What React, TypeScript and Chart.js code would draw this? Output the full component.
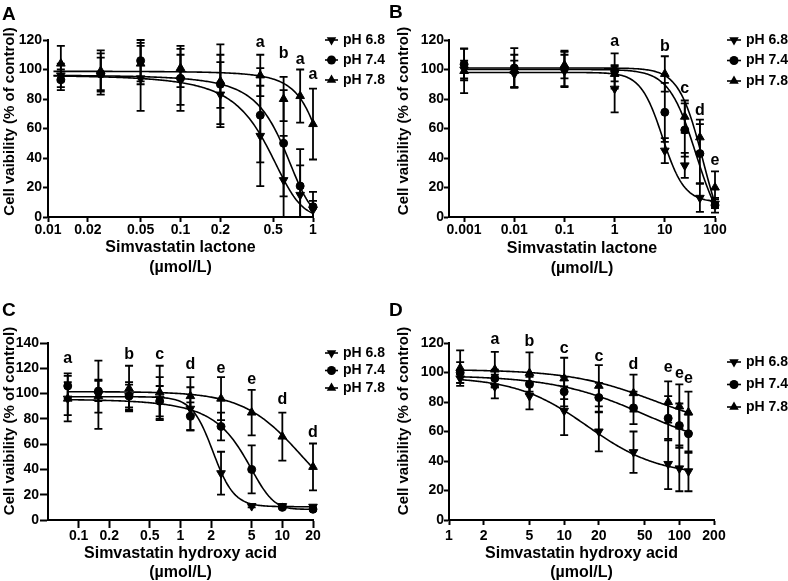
import React, { useEffect, useRef } from 'react';
import { Chart, registerables } from 'chart.js';

Chart.register(...registerables);

const FONT = '"Liberation Sans", Arial, Helvetica, sans-serif';
const SERIES_LABELS = ['pH 6.8', 'pH 7.4', 'pH 7.8'];
const SERIES_MARKERS = ['down', 'circle', 'up'];

// ---------- Panel A : Simvastatin lactone (low range) ----------
const A_X = [0.0125, 0.025, 0.05, 0.1, 0.2, 0.4, 0.6, 0.8, 1];
const A_68 = [96, 97, 94, 93, 83, 55, 25, 15, 5];
const A_68_ERR = [8, 11, 22, 17, 22, 34, 30, 20, 6];
const A_74 = [93, 97, 106, 94, 90, 69, 50, 21, 7];
const A_74_ERR = [7, 14, 14, 22, 27, 32, 36, 25, 10];
const A_78 = [104, 99, 104, 101, 92, 96, 80, 82, 63];
const A_78_ERR = [12, 14, 14, 13, 18, 14, 15, 18, 24];
// fitted curves: [top, bottom, midpoint, slope]
const A_FIT_68 = [102, 0, 0.43, 2.8];
const A_FIT_74 = [99, -2, 0.59, 2.6];
const A_FIT_78 = [99.5, 0, 1.13, 1.9];
const A_FIT_MODELS = ['lin', 'lin', 'lin'];
const A_CURVE_RANGE = [0.011, 1];
const A_XTICKS = [0.01, 0.02, 0.05, 0.1, 0.2, 0.5, 1];
const A_XTICK_LABELS = ['0.01', '0.02', '0.05', '0.1', '0.2', '0.5', '1'];
const A_LETTER_X = [0.4, 0.6, 0.8, 1];
const A_LETTER_Y = [118, 111, 106.5, 96.5];
const A_LETTERS = ['a', 'b', 'a', 'a'];

// ---------- Panel B : Simvastatin lactone (wide range) ----------
const B_X = [0.001, 0.01, 0.1, 1, 10, 25, 50, 100];
const B_68 = [100, 97, 99, 87, 45, 35, 13, 9];
const B_68_ERR = [6, 9, 11, 16, 8.5, 8.5, 9.5, 3];
const B_74 = [103.5, 101, 100.7, 99, 71, 59, 43, 8];
const B_74_ERR = [10.8, 13.5, 12, 12, 20, 18, 20, 5];
const B_78 = [99, 99, 103, 97, 97, 68, 54, 20];
const B_78_ERR = [15, 11, 9, 5, 12, 11, 12, 11];
const B_FIT_68 = [98, 10, 9, 2];
const B_FIT_74 = [100, -15, 42, 1.6];
const B_FIT_78 = [101, -25, 58, 1.8];
const B_FIT_MODELS = ['log', 'log', 'log'];
const B_CURVE_RANGE = [0.001, 100];
const B_XTICKS = [0.001, 0.01, 0.1, 1, 10, 100];
const B_XTICK_LABELS = ['0.001', '0.01', '0.1', '1', '10', '100'];
const B_LETTER_X = [1, 10, 25, 50, 100];
const B_LETTER_Y = [119, 115.5, 87, 72, 38];
const B_LETTERS = ['a', 'b', 'c', 'd', 'e'];

// ---------- Panel C : Simvastatin hydroxy acid (low range) ----------
const C_X = [0.078125, 0.15625, 0.3125, 0.625, 1.25, 2.5, 5, 10, 20];
const C_68 = [96, 99, 98, 96, 88, 37, 11, 11, 10.5];
const C_68_ERR = [18, 27, 9, 17, 17, 17, 1, 1, 1];
const C_74 = [106, 102, 98, 94, 82, 74, 40, 10, 8.5];
const C_74_ERR = [10, 8, 11, 12, 11, 11, 19, 1, 1];
const C_78 = [96, 98, 104, 101, 98, 96, 85, 66, 42];
const C_78_ERR = [13, 13, 18, 21, 15, 17, 18, 19, 18.5];
const C_FIT_68 = [97.5, 10.5, 2.085, 4.2];
const C_FIT_74 = [105, 8.5, 3.77, 0.256];
const C_FIT_78 = [101.5, 0, 15.5, 1.52];
const C_FIT_MODELS = ['log', 'lin', 'log'];
const C_CURVE_RANGE = [0.078125, 20];
const C_XTICKS = [0.1, 0.2, 0.5, 1, 2, 5, 10, 20];
const C_XTICK_LABELS = ['0.1', '0.2', '0.5', '1', '2', '5', '10', '20'];
const C_LETTER_X = [0.078125, 0.3125, 0.625, 1.25, 2.5, 5, 10, 20];
const C_LETTER_Y = [127.5, 131, 131, 123, 120, 111, 95, 69];
const C_LETTERS = ['a', 'b', 'c', 'd', 'e', 'e', 'd', 'd'];

// ---------- Panel D : Simvastatin hydroxy acid (wide range) ----------
const D_X = [1.25, 2.5, 5, 10, 20, 40, 80, 100, 120];
const D_68 = [96, 90.5, 84, 74, 60, 46, 38, 35, 33];
const D_68_ERR = [3, 8, 9, 16.5, 13.5, 14, 17, 15.5, 13.5];
const D_74 = [100, 96, 92, 87, 83, 76, 69, 64, 58.5];
const D_74_ERR = [7, 6, 5, 10, 10, 11, 15, 15, 13];
const D_78 = [103, 102, 99.6, 96, 91, 86, 80, 77, 73];
const D_78_ERR = [12, 12, 14, 14, 14, 12.5, 14, 15, 14];
const D_FIT_68 = [97, 30, 16, 1.4];
const D_FIT_74 = [98, 45, 50, 1.1];
const D_FIT_78 = [102, 60, 60, 1.2];
const D_FIT_MODELS = ['log', 'log', 'log'];
const D_CURVE_RANGE = [1.25, 120];
const D_XTICKS = [1, 2, 5, 10, 20, 50, 100, 200];
const D_XTICK_LABELS = ['1', '2', '5', '10', '20', '50', '100', '200'];
const D_LETTER_X = [2.5, 5, 10, 20, 40, 80, 100, 120];
const D_LETTER_Y = [122, 121, 116.5, 111, 105.5, 103, 99, 96];
const D_LETTERS = ['a', 'b', 'c', 'c', 'd', 'e', 'e', 'e'];

const Y_TITLE = 'Cell vaibility (% of control)';

// ---------- layout (positions / styles) ----------
const PANELS = [
  {
    id: 'A', left: 0, top: 0, w: 394, h: 290,
    area: { l: 48, r: 313, t: 40, b: 217 }, xMin: 0.01, xMax: 1, yMax: 120,
    xs: A_X, ys: [A_68, A_74, A_78], es: [A_68_ERR, A_74_ERR, A_78_ERR],
    fits: [A_FIT_68, A_FIT_74, A_FIT_78], models: A_FIT_MODELS, range: A_CURVE_RANGE,
    xTicks: A_XTICKS, xLabels: A_XTICK_LABELS,
    letters: { x: A_LETTER_X, y: A_LETTER_Y, t: A_LETTERS },
    xTitle: ['Simvastatin lactone', '(µmol/L)'], xTitleY: [248, 268], yTitleX: 10, yTitleY: 121.5,
    legend: { x1: 325, x2: 338, tx: 343, rows: [40, 60, 80] },
    tick: { yLen: 5, xLen: 5, yPad: 1, xPad: 0 },
    label: { x: 2, y: 4 },
  },
  {
    id: 'B', left: 394, top: 0, w: 394, h: 290,
    area: { l: 55, r: 321, t: 40, b: 217 }, xMin: 0.0005, xMax: 100, yMax: 120,
    xs: B_X, ys: [B_68, B_74, B_78], es: [B_68_ERR, B_74_ERR, B_78_ERR],
    fits: [B_FIT_68, B_FIT_74, B_FIT_78], models: B_FIT_MODELS, range: B_CURVE_RANGE,
    xTicks: B_XTICKS, xLabels: B_XTICK_LABELS,
    letters: { x: B_LETTER_X, y: B_LETTER_Y, t: B_LETTERS },
    xTitle: ['Simvastatin lactone', '(µmol/L)'], xTitleY: [248.3, 268.3], yTitleX: 10, yTitleY: 121,
    legend: { x1: 333, x2: 347, tx: 352, rows: [40, 60.5, 81] },
    tick: { yLen: 5, xLen: 5, yPad: 0, xPad: 0 },
    label: { x: 389, y: 2 },
  },
  {
    id: 'C', left: 0, top: 290, w: 394, h: 291,
    area: { l: 48, r: 313, t: 53, b: 230 }, xMin: 0.05, xMax: 20, yMax: 140,
    xs: C_X, ys: [C_68, C_74, C_78], es: [C_68_ERR, C_74_ERR, C_78_ERR],
    fits: [C_FIT_68, C_FIT_74, C_FIT_78], models: C_FIT_MODELS, range: C_CURVE_RANGE,
    xTicks: C_XTICKS, xLabels: C_XTICK_LABELS,
    letters: { x: C_LETTER_X, y: C_LETTER_Y, t: C_LETTERS },
    xTitle: ['Simvastatin hydroxy acid', '(µmol/L)'], xTitleY: [263.3, 282.7], yTitleX: 9.5, yTitleY: 131,
    legend: { x1: 325, x2: 338, tx: 343, rows: [63, 80.5, 98] },
    tick: { yLen: 8, xLen: 8, yPad: 1, xPad: 0 },
    label: { x: 2, y: 300 },
  },
  {
    id: 'D', left: 394, top: 290, w: 394, h: 291,
    area: { l: 55, r: 320, t: 53, b: 230 }, xMin: 1, xMax: 200, yMax: 120,
    xs: D_X, ys: [D_68, D_74, D_78], es: [D_68_ERR, D_74_ERR, D_78_ERR],
    fits: [D_FIT_68, D_FIT_74, D_FIT_78], models: D_FIT_MODELS, range: D_CURVE_RANGE,
    xTicks: D_XTICKS, xLabels: D_XTICK_LABELS,
    letters: { x: D_LETTER_X, y: D_LETTER_Y, t: D_LETTERS },
    xTitle: ['Simvastatin hydroxy acid', '(µmol/L)'], xTitleY: [263.3, 282.7], yTitleX: 10, yTitleY: 131,
    legend: { x1: 333, x2: 347, tx: 352, rows: [72, 94.5, 117] },
    tick: { yLen: 5, xLen: 5, yPad: 0, xPad: 3 },
    label: { x: 389, y: 300 },
  },
];

const CAP = 4;
const CIRCLE_R = 4;
const TRI_R = 5;

function fitValue(f: number[], model: string, x: number) {
  const [top, bottom, mid, slope] = f;
  const t = model === 'log' ? Math.pow(x / mid, slope) : Math.pow(10, (x - mid) * slope);
  return bottom + (top - bottom) / (1 + t);
}

function curvePoints(f: number[], model: string, range: number[]) {
  const l0 = Math.log10(range[0]);
  const l1 = Math.log10(range[1]);
  const n = 200;
  const pts: { x: number; y: number }[] = [];
  for (let i = 0; i <= n; i++) {
    const x = Math.pow(10, l0 + ((l1 - l0) * i) / n);
    pts.push({ x, y: fitValue(f, model, x) });
  }
  return pts;
}

function drawMarker(ctx: CanvasRenderingContext2D, kind: string, x: number, y: number) {
  ctx.beginPath();
  if (kind === 'circle') {
    ctx.arc(x, y, CIRCLE_R + 0.5, 0, Math.PI * 2);
  } else {
    const r = TRI_R + 0.5;
    const s = kind === 'down' ? -1 : 1;
    ctx.moveTo(x, y - s * r);
    ctx.lineTo(x + 0.866 * r, y + s * 0.5 * r);
    ctx.lineTo(x - 0.866 * r, y + s * 0.5 * r);
    ctx.closePath();
  }
  ctx.fill();
}

function makeConfig(p: any) {
  const pointSets = p.ys.map((ys: number[], si: number) => ({
    label: SERIES_LABELS[si],
    data: p.xs.map((x: number, i: number) => ({ x, y: ys[i] })),
    showLine: false,
    pointStyle: SERIES_MARKERS[si] === 'circle' ? 'circle' : 'triangle',
    pointRotation: SERIES_MARKERS[si] === 'down' ? 180 : 0,
    pointRadius: SERIES_MARKERS[si] === 'circle' ? CIRCLE_R : TRI_R,
    pointBackgroundColor: '#000',
    pointBorderColor: '#000',
    pointBorderWidth: 1,
    clip: false,
  }));
  const curveSets = p.fits.map((f: number[], si: number) => ({
    label: SERIES_LABELS[si] + ' fit',
    data: curvePoints(f, p.models[si], p.range),
    showLine: true,
    pointRadius: 0,
    borderColor: '#000',
    borderWidth: 1.6,
    fill: false,
    tension: 0,
  }));

  const decor = {
    id: 'decor' + p.id,
    beforeDatasetsDraw(chart: any) {
      const { ctx, scales } = chart;
      const xs = scales.x;
      const ysc = scales.y;
      ctx.save();
      ctx.strokeStyle = '#000';
      ctx.lineWidth = 1.8;
      p.ys.forEach((vals: number[], si: number) => {
        vals.forEach((v: number, i: number) => {
          const e = p.es[si][i];
          const px = xs.getPixelForValue(p.xs[i]);
          const hi = ysc.getPixelForValue(v + e);
          const lo = ysc.getPixelForValue(Math.max(0, v - e));
          ctx.beginPath();
          ctx.moveTo(px, hi);
          ctx.lineTo(px, lo);
          ctx.moveTo(px - CAP, hi);
          ctx.lineTo(px + CAP, hi);
          if (v - e > 0) {
            ctx.moveTo(px - CAP, lo);
            ctx.lineTo(px + CAP, lo);
          }
          ctx.stroke();
        });
      });
      ctx.restore();
    },
    afterDraw(chart: any) {
      const { ctx, scales } = chart;
      ctx.save();
      ctx.fillStyle = '#000';
      ctx.strokeStyle = '#000';
      // y title
      ctx.save();
      ctx.translate(p.yTitleX, p.yTitleY);
      ctx.rotate(-Math.PI / 2);
      ctx.font = `bold 15px ${FONT}`;
      ctx.textAlign = 'center';
      ctx.textBaseline = 'middle';
      ctx.fillText(Y_TITLE, 0, 0);
      ctx.restore();
      // x title
      ctx.font = `bold 16px ${FONT}`;
      ctx.textAlign = 'center';
      ctx.textBaseline = 'middle';
      const cx = (p.area.l + p.area.r) / 2;
      p.xTitle.forEach((t: string, i: number) => ctx.fillText(t, cx, p.xTitleY[i]));
      // significance letters
      ctx.font = `bold 16px ${FONT}`;
      p.letters.t.forEach((t: string, i: number) => {
        ctx.fillText(t, scales.x.getPixelForValue(p.letters.x[i]), scales.y.getPixelForValue(p.letters.y[i]));
      });
      // legend
      ctx.font = `bold 14px ${FONT}`;
      ctx.textAlign = 'left';
      const lg = p.legend;
      SERIES_LABELS.forEach((lab, i) => {
        const y = lg.rows[i];
        ctx.lineWidth = 1.6;
        ctx.beginPath();
        ctx.moveTo(lg.x1, y);
        ctx.lineTo(lg.x2, y);
        ctx.stroke();
        drawMarker(ctx, SERIES_MARKERS[i], (lg.x1 + lg.x2) / 2, y);
        ctx.fillText(lab, lg.tx, y);
      });
      ctx.restore();
    },
  };

  const tickFont = { family: FONT, size: 14, weight: 'bold' as const };
  const yTicks: number[] = [];
  for (let v = 0; v <= p.yMax; v += 20) yTicks.push(v);

  return {
    type: 'scatter' as const,
    data: { datasets: [...pointSets, ...curveSets] },
    plugins: [decor],
    options: {
      responsive: false,
      animation: false as const,
      devicePixelRatio: 1,
      events: [],
      layout: { padding: { top: p.area.t, right: p.w - p.area.r, bottom: 0, left: 0 } },
      plugins: { legend: { display: false }, tooltip: { enabled: false }, title: { display: false } },
      scales: {
        x: {
          type: 'logarithmic' as const,
          position: 'bottom' as const,
          min: p.xMin,
          max: p.xMax,
          afterBuildTicks: (s: any) => {
            s.ticks = p.xTicks.map((v: number) => ({ value: v }));
          },
          afterFit: (s: any) => {
            s.height = p.h - p.area.b;
          },
          ticks: {
            autoSkip: false,
            maxRotation: 0,
            minRotation: 0,
            padding: p.tick.xPad,
            color: '#000',
            font: tickFont,
            callback: (_v: any, i: number) => p.xLabels[i],
          },
          grid: { display: true, drawOnChartArea: false, drawTicks: true, tickLength: p.tick.xLen, tickWidth: 2, tickColor: '#000' },
          border: { display: true, color: '#000', width: 2 },
          title: { display: false },
        },
        y: {
          type: 'linear' as const,
          position: 'left' as const,
          min: 0,
          max: p.yMax,
          afterBuildTicks: (s: any) => {
            s.ticks = yTicks.map((v) => ({ value: v }));
          },
          afterFit: (s: any) => {
            s.width = p.area.l;
          },
          ticks: { padding: p.tick.yPad, color: '#000', font: tickFont, callback: (v: any) => String(v) },
          grid: { display: true, drawOnChartArea: false, drawTicks: true, tickLength: p.tick.yLen, tickWidth: 2, tickColor: '#000' },
          border: { display: true, color: '#000', width: 2 },
          title: { display: false },
        },
      },
    },
  };
}

function Panel({ p }: { p: any }) {
  const ref = useRef<HTMLCanvasElement>(null);
  useEffect(() => {
    const chart = new Chart(ref.current as HTMLCanvasElement, makeConfig(p) as any);
    return () => chart.destroy();
  }, [p]);
  return (
    <canvas
      ref={ref}
      width={p.w}
      height={p.h}
      style={{ position: 'absolute', left: p.left, top: p.top, width: p.w, height: p.h }}
    />
  );
}

export default function App() {
  return (
    <div style={{ position: 'absolute', left: 0, top: 0, width: 788, height: 581, background: '#fff', overflow: 'hidden' }}>
      {PANELS.map((p) => (
        <Panel key={p.id} p={p} />
      ))}
      {PANELS.map((p) => (
        <div
          key={'lbl' + p.id}
          style={{
            position: 'absolute',
            left: p.label.x,
            top: p.label.y,
            font: `bold 19px ${FONT}`,
            lineHeight: '20px',
            color: '#000',
          }}
        >
          {p.id}
        </div>
      ))}
    </div>
  );
}
